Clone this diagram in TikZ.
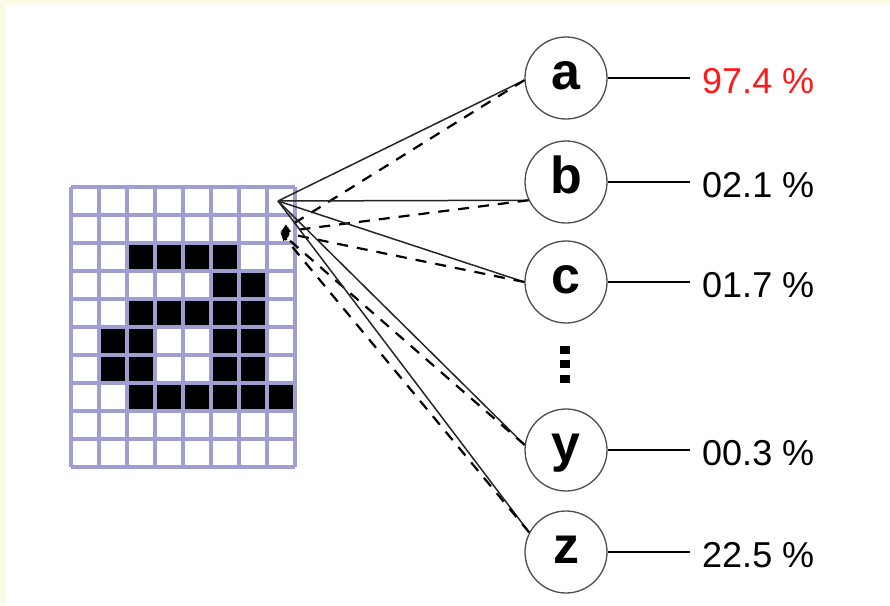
\documentclass[tikz,border=0pt]{standalone}
\usepackage{fontspec}
\setmainfont{Liberation Sans}
\usetikzlibrary{arrows.meta}

\definecolor{paperCream}{RGB}{250,250,230}
\definecolor{gridBlue}{RGB}{158,158,208}
\definecolor{probRed}{RGB}{255,25,25}

\begin{document}
\begin{tikzpicture}
[x=1pt,y=-1pt,%
  cellLine/.style={draw=gridBlue,line width=3.4pt},%
  outNode/.style={shape=circle,draw=black!70,line width=1.3pt,minimum size=82pt,inner sep=0pt,%
    font=\fontsize{52}{52}\selectfont\bfseries,text height=22pt,text depth=0pt},%
  fwdLine/.style={-,line width=1.5pt,black!85},%
  backLine/.style={line width=2.2pt,dash pattern=on 11pt off 9pt,-{Latex[length=9pt,width=7pt]}},%
  probLine/.style={-,line width=2.2pt},%
  probNode/.style={anchor=west,inner sep=0pt,inner xsep=12pt,%
    font=\fontsize{36}{36}\selectfont,text height=30pt,text depth=0pt}]
%% paper
\fill[paperCream] (0,0) rectangle (890,605);
\fill[white] (6,5) rectangle (890,605);
%% the letter as black cells
\foreach \c/\r in {2/2,3/2,4/2,5/2,5/3,6/3,2/4,3/4,4/4,5/4,6/4,
  1/5,2/5,5/5,6/5,1/6,2/6,5/6,6/6,2/7,3/7,4/7,5/7,6/7,7/7}
  \fill[black] (71+28*\c,187+28*\r) rectangle +(28,28);
%% cell grid
\foreach \i in {0,...,8}
  \draw[cellLine] (71+28*\i,187) -- (71+28*\i,467);
\foreach \j in {0,...,10}
  \draw[cellLine] (71,187+28*\j) -- (295,187+28*\j);
%% output nodes
\foreach \n/\y in {a/78,b/182,c/282,y/450,z/552}
  \node[outNode] (\n) at (566,\y) {\n};
%% vertical dots
\foreach \y in {350,364,379}
  \fill[black] (560,\y-4) rectangle (570,\y+4);
%% forward and backward connections
\coordinate (fwd) at (278,201);
\coordinate (back) at (280,232);
\foreach \n/\ang in {a/183,b/206,c/180,y/173,z/152}
{
  \draw[fwdLine] (fwd) -- (\n.\ang);
  \draw[backLine] (\n.\ang) -- (back);
}
%% scores
\foreach \n/\v/\col in {a/97.4/probRed,b/02.1/black,c/01.7/black,y/00.3/black,z/22.5/black}
{
  \node[probNode,text=\col] (p\n) at ([xshift=124pt]\n.center) {\v\ \%};
  \draw[probLine] (\n.east) -- (p\n.west);
}
\end{tikzpicture}
\end{document}
